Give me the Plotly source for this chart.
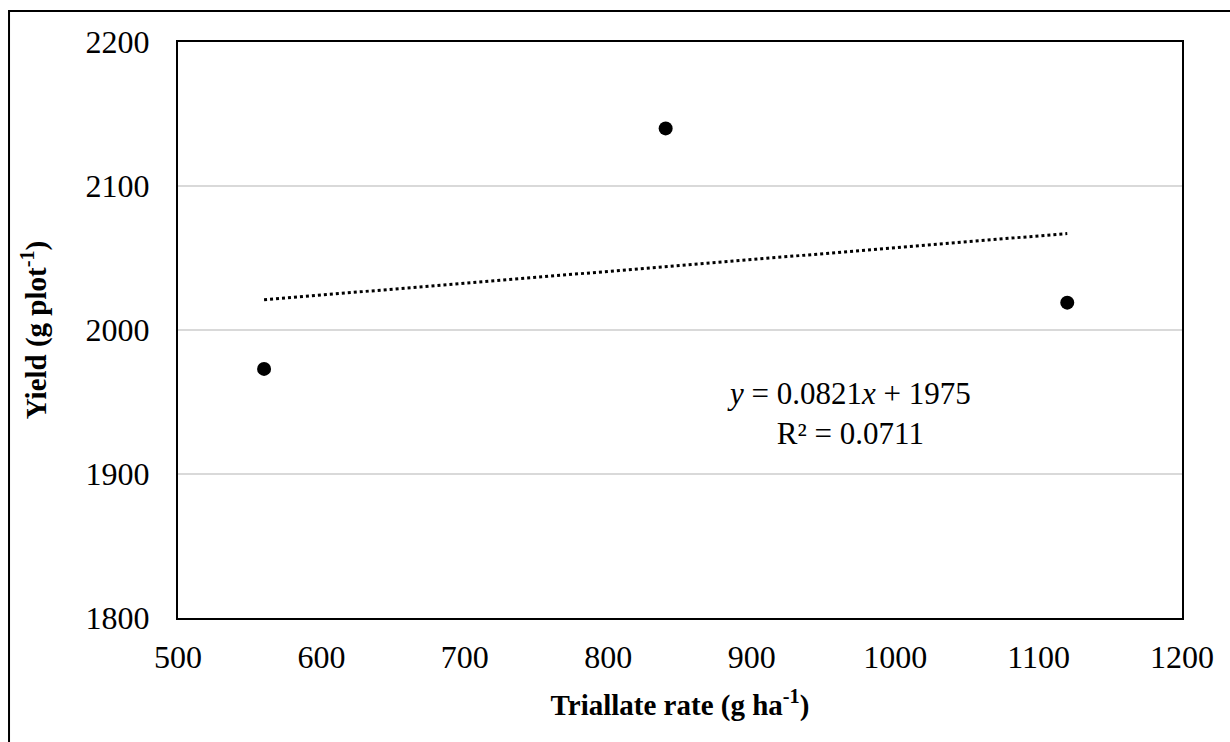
import numpy as np
import plotly.graph_objects as go

rate = [560, 840, 1120]
yield_g = [1973, 2140, 2019]
x_ticks = [500, 600, 700, 800, 900, 1000, 1100, 1200]
y_ticks = [1800, 1900, 2000, 2100, 2200]

slope, intercept = np.polyfit(rate, yield_g, 1)
r = np.corrcoef(rate, yield_g)[0, 1]
trend_x = [min(rate), max(rate)]
trend_y = [slope * v + intercept for v in trend_x]

FONT = "Liberation Serif"

fig = go.Figure()
fig.add_trace(go.Scatter(x=trend_x, y=trend_y, mode="lines",
                         line=dict(color="black", width=3, dash="dot"),
                         showlegend=False, hoverinfo="skip"))
fig.add_trace(go.Scatter(x=rate, y=yield_g, mode="markers",
                         marker=dict(color="black", size=14),
                         showlegend=False))

fig.add_annotation(x=968, y=1942, xref="x", yref="y", showarrow=False,
                   text=f"<i>y</i> = {slope:.4f}<i>x</i> + {intercept:.0f}<br>R² = {r**2:.4f}",
                   font=dict(family=FONT, size=31, color="black"), align="center")

fig.add_shape(type="rect", xref="paper", yref="paper",
              x0=-0.1683, x1=1.2, y0=-0.3, y1=1.0538,
              line=dict(color="black", width=2), fillcolor="rgba(0,0,0,0)", layer="below")

fig.update_layout(
    width=1230, height=742,
    margin=dict(l=178, r=48, t=42, b=124),
    plot_bgcolor="white", paper_bgcolor="white",
    font=dict(family=FONT, size=31, color="black"),
    xaxis=dict(range=[500, 1200], tickvals=x_ticks, showgrid=False, zeroline=False,
               showline=True, linecolor="black", linewidth=2, mirror=True, ticks="",
               ticklabelstandoff=10, tickfont=dict(family=FONT, size=32),
               title=dict(text="<b>Triallate rate (g ha<sup>-1</sup>)</b>",
                          font=dict(family=FONT, size=29), standoff=20)),
    yaxis=dict(range=[1800, 2200], tickvals=y_ticks, showgrid=True, gridcolor="#d9d9d9", gridwidth=1.5,
               zeroline=False, showline=True, linecolor="black", linewidth=2, mirror=True, ticks="",
               ticklabelstandoff=20, tickfont=dict(family=FONT, size=32),
               title=dict(text="<b>Yield (g plot<sup>-1</sup>)</b>",
                          font=dict(family=FONT, size=29), standoff=30)),
)

fig.write_html("out.html")
